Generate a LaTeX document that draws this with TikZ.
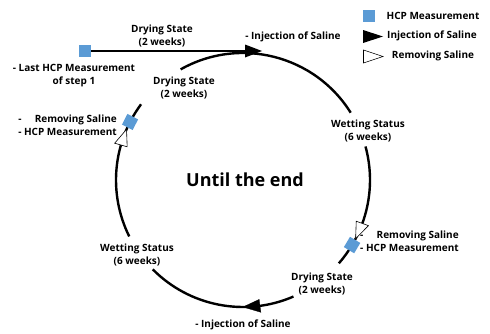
\documentclass[tikz,border=0pt]{standalone}
\usepackage{fontspec}
\setmainfont{Open Sans}
\usetikzlibrary{calc}
\definecolor{hcpblue}{HTML}{5B9BD5}
\newcommand\arctri[3]{%
  \filldraw[#1] ($(c)+(#2:127)$) -- ($(c)+(#3:133.5)$) -- ($(c)+(#3:120.5)$) -- cycle;}
\begin{document}
\begin{tikzpicture}[x=1pt,y=1pt,
  lbl/.style={font=\bfseries\fontsize{10}{13}\selectfont, align=center, inner sep=0pt},
  circ/.style={line width=2.4pt},
  hcp/.style={fill=hcpblue, minimum size=12pt, inner sep=0pt},
  whitetri/.style={fill=white, draw=black, line width=0.6pt, line join=miter},
  blacktri/.style={fill=black, draw=black, line width=0.3pt}]
\useasboundingbox (0,0) rectangle (490,333);
\coordinate (c) at (243,153);
% circle arcs
\draw[circ] ($(c)+(119.4:127)$) arc[start angle=119.4, end angle=32, radius=127];
\draw[circ] ($(c)+(15.3:127)$) arc[start angle=15.3, end angle=-41, radius=127];
\draw[circ] ($(c)+(-66.6:127)$) arc[start angle=-66.6, end angle=-135.3, radius=127];
\draw[circ] ($(c)+(206.4:127)$) arc[start angle=206.4, end angle=143.4, radius=127];
% top straight line
\node[hcp] (sq0) at (85,282) {};
\coordinate (lineend) at (246,282);
\draw[line width=2.8pt] (sq0.east) -- (lineend);
\fill (245,288.5) -- (262,282) -- (245,275.5) -- cycle;
% arrows on the circle
\arctri{blacktri}{-90}{-82.3}
\arctri{whitetri}{156.5}{164}
\arctri{whitetri}{-27.5}{-20}
% measurement squares
\node[hcp, rotate=152.8] (sqL) at ($(c)+(152.8:127)$) {};
\node[hcp, rotate=-30.8] (sqR) at ($(c)+(-30.8:127)$) {};
% labels
\node[lbl] (dry1) at (162,297) {Drying State\\(2 weeks)};
\node[lbl] (last) at (74,257.5) {- Last HCP Measurement\\of step 1};
\node[lbl] (inj1) at (293,296) {- Injection of Saline};
\node[lbl] (dry2) at (184,245) {Drying State\\(2 weeks)};
\node[lbl, anchor=east] (remL) at (117,207) {\begin{tabular}{@{}l@{}r@{}}-&Removing Saline\\-&\ HCP Measurement\end{tabular}};
\node[lbl] (wetR) at (368,202) {Wetting Status\\(6 weeks)};
\node[font=\bfseries\fontsize{18}{20}\selectfont, inner sep=0pt] (until) at (245,153) {Until the end};
\node[lbl, anchor=west] (remR) at (360,90.5) {\begin{tabular}{@{}l@{}r@{}}-&Removing Saline\\-&\ HCP Measurement\end{tabular}};
\node[lbl] (dry3) at (322,49.5) {Drying State\\(2 weeks)};
\node[lbl] (inj2) at (243,8) {- Injection of Saline};
\node[lbl] (wetL) at (137,78) {Wetting Status\\(6 weeks)};
% legend
\node[hcp] (lg1) at (369,317) {};
\fill (363,303) -- (383,296.5) -- (363,290) -- cycle;
\draw[whitetri] (363.5,283) -- (383,276.5) -- (363.5,270) -- cycle;
\node[lbl] (lgt1) at (433,317) {HCP Measurement};
\node[lbl] (lgt2) at (432,297) {Injection of Saline};
\node[lbl] (lgt3) at (433,277) {Removing Saline};
\end{tikzpicture}
\end{document}
